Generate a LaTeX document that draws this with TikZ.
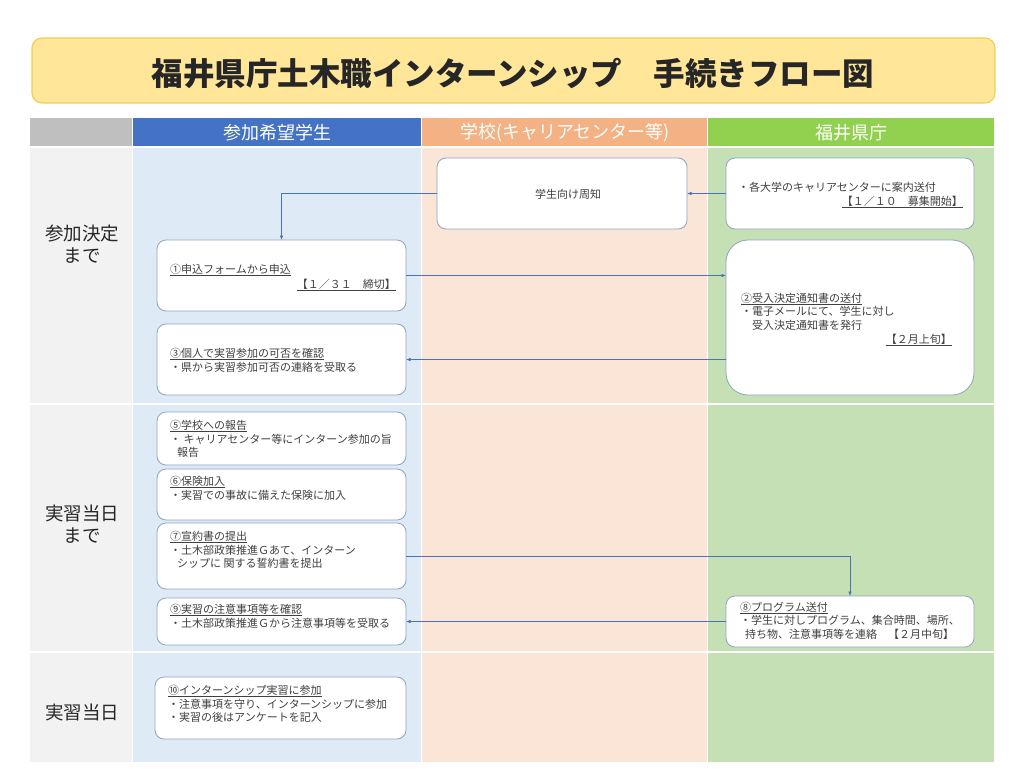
\documentclass[tikz,border=0pt]{standalone}
\usepackage{fontspec}
\setmainfont{Noto Sans CJK JP}
\usetikzlibrary{arrows.meta}
\definecolor{hdgray}{HTML}{BFBFBF}
\definecolor{hdblue}{HTML}{4472C4}
\definecolor{hdorange}{HTML}{F4B183}
\definecolor{hdgreen}{HTML}{92D050}
\definecolor{bggray}{HTML}{F2F2F2}
\definecolor{bgblue}{HTML}{DEEBF7}
\definecolor{bgorange}{HTML}{FBE5D6}
\definecolor{bggreen}{HTML}{C5E0B4}
\definecolor{titlefill}{HTML}{FFE699}
\definecolor{titleline}{HTML}{F4CD5A}
\definecolor{boxline}{HTML}{8FA3BF}
\definecolor{txtgray}{HTML}{404040}
\definecolor{lblgray}{HTML}{262626}
\definecolor{arrcol}{HTML}{4A72B8}
\begin{document}
\begin{tikzpicture}[x=1pt,y=-1pt,
  box/.style={draw=boxline, fill=white, line width=0.8pt, rounded corners=9pt, inner sep=0pt, outer sep=0pt},
  txt/.style={anchor=base west, inner sep=0pt, text=txtgray, font=\fontsize{11}{13}\selectfont},
  txtr/.style={txt, anchor=base east},
  hd/.style={text=white, font=\fontsize{18}{20}\selectfont, inner sep=0pt},
  lbl/.style={text=lblgray, font=\fontsize{18.5}{22}\selectfont, align=center, inner sep=0pt},
  arr/.style={draw=arrcol, line width=0.6pt, -{Latex[length=4.5pt,width=3.5pt]}},
]
\useasboundingbox (0,0) rectangle (1024,768);
\fill[white] (0,0) rectangle (1024,768);
% title
\node[draw=titleline, fill=titlefill, line width=1.2pt, rounded corners=10pt, minimum width=963pt, minimum height=65pt, inner sep=0pt] (titlebox) at (513.5,70.5) {};
\node[text=lblgray, font=\fontsize{31.5}{33}\selectfont\bfseries, inner sep=0pt] (title) at (513,73) {福井県庁土木職インターンシップ　手続きフロー図};
% header
\fill[hdgray] (30,118) rectangle (132,146);
\fill[hdblue] (133,118) rectangle (421,146);
\fill[hdorange] (422,118) rectangle (707,146);
\fill[hdgreen] (708,118) rectangle (994,146);
\node[hd] (h1) at (277,133) {参加希望学生};
\node[hd] (h2) at (565,133) {学校(キャリアセンター等)};
\node[hd] (h3) at (851,133) {福井県庁};
% body columns
\fill[bggray] (30,148) rectangle (132,762);
\fill[bgblue] (133,148) rectangle (421,762);
\fill[bgorange] (422,148) rectangle (707,762);
\fill[bggreen] (708,148) rectangle (994,762);
\draw[white, line width=1.5pt] (30,404) -- (994,404);
\draw[white, line width=1.5pt] (30,652) -- (994,652);
% row labels
\node[lbl] (r1) at (82,244) {参加決定\\まで};
\node[lbl] (r2) at (82,524) {実習当日\\まで};
\node[lbl] (r3) at (82,712) {実習当日};
% boxes
\node[box, minimum width=250pt, minimum height=71pt] (shuchi) at (562,193.5) {};
\node[box, minimum width=248pt, minimum height=71pt] (annai) at (850,193.5) {};
\node[box, minimum width=249pt, minimum height=71pt] (app) at (281.5,275.5) {};
\node[box, rounded corners=22pt, minimum width=248pt, minimum height=155pt] (notif) at (850,317.5) {};
\node[box, minimum width=249pt, minimum height=71pt] (kakunin) at (281.5,359.5) {};
\node[box, minimum width=249pt, minimum height=53pt] (houkoku) at (281.5,438.5) {};
\node[box, minimum width=249pt, minimum height=51pt] (hoken) at (281.5,494.5) {};
\node[box, minimum width=249pt, minimum height=66pt] (seiyaku) at (281.5,556) {};
\node[box, minimum width=249pt, minimum height=47pt] (chui) at (281.5,621.5) {};
\node[box, minimum width=248pt, minimum height=51pt] (prog) at (850,621.5) {};
\node[box, minimum width=251pt, minimum height=62pt] (sanka) at (280.5,708) {};
% texts
\node[txt, anchor=center] (t0) at (568,194) {学生向け周知};
\node[txt] (ta1) at (738,191) {・各大学のキャリアセンターに案内送付};
\node[txtr] (ta2) at (963,205) {\underline{【１／１０　募集開始】}};
\node[txt] (tb1) at (170,273) {\underline{①申込フォームから申込}};
\node[txtr] (tb2) at (396,288) {\underline{【１／３１　締切】}};
\node[txt] (tc1) at (741,302) {\underline{②受入決定通知書の送付}};
\node[txt] (tc2) at (741,315) {・電子メールにて、学生に対し};
\node[txt] (tc3) at (741,329) {　受入決定通知書を発行};
\node[txtr] (tc4) at (952,343) {\underline{【２月上旬】}};
\node[txt] (td1) at (170,357) {\underline{③個人で実習参加の可否を確認}};
\node[txt] (td2) at (170,371) {・県から実習参加可否の連絡を受取る};
\node[txt] (te1) at (170,429) {\underline{⑤学校への報告}};
\node[txt] (te2) at (170,443) {・ キャリアセンター等にインターン参加の旨};
\node[txt] (te3) at (177,456) {報告};
\node[txt] (tf1) at (170,485) {\underline{⑥保険加入}};
\node[txt] (tf2) at (170,499) {・実習での事故に備えた保険に加入};
\node[txt] (tg1) at (170,540) {\underline{⑦宣約書の提出}};
\node[txt] (tg2) at (170,554) {・土木部政策推進Ｇあて、インターン};
\node[txt] (tg3) at (177,567) {シップに 関する誓約書を提出};
\node[txt] (th1) at (170,613) {\underline{⑨実習の注意事項等を確認}};
\node[txt] (th2) at (170,627) {・土木部政策推進Ｇから注意事項等を受取る};
\node[txt] (ti1) at (740,611) {\underline{⑧プログラム送付}};
\node[txt] (ti2) at (740,624) {・学生に対しプログラム、集合時間、場所、};
\node[txt] (ti3) at (745,638) {持ち物、注意事項等を連絡　【２月中旬】};
\node[txt] (tj1) at (168,694) {\underline{⑩インターンシップ実習に参加}};
\node[txt] (tj2) at (168,708) {・注意事項を守り、インターンシップに参加};
\node[txt] (tj3) at (168,721) {・実習の後はアンケートを記入};
% arrows
\draw[arr] (annai.west) -- (shuchi.east);
\draw[arr] (shuchi.west) -| (app.north);
\draw[arr] (app.east) -- (app.east -| notif.west);
\draw[arr] (notif.west |- kakunin.east) -- (kakunin.east);
\draw[arr] (seiyaku.east) -| (prog.north);
\draw[arr] (prog.west) -- (chui.east);
\end{tikzpicture}
\end{document}
